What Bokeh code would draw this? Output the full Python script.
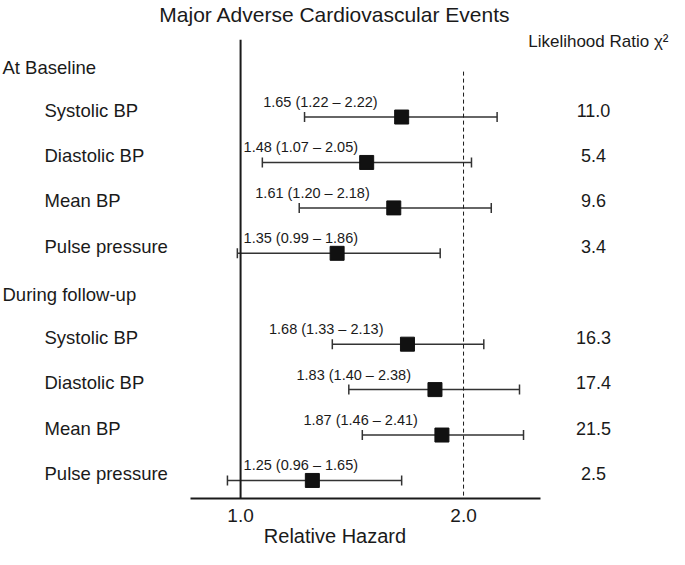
import math
from bokeh.plotting import figure
from bokeh.models import Range1d, ColumnDataSource, Whisker, TeeHead, FixedTicker, PrintfTickFormatter
from bokeh.core.properties import value
from bokeh.embed import file_html
from bokeh.resources import INLINE

# ---------------- data ----------------
title_text = "Major Adverse Cardiovascular Events"
x_label = "Relative Hazard"
chi_header = "Likelihood Ratio \u03c7\u00b2"
sections = ["At Baseline", "During follow-up"]
measures = ["Systolic BP", "Diastolic BP", "Mean BP", "Pulse pressure"]

hr_baseline = [1.65, 1.48, 1.61, 1.35]
lo_baseline = [1.22, 1.07, 1.20, 0.99]
hi_baseline = [2.22, 2.05, 2.18, 1.86]
chi_baseline = [11.0, 5.4, 9.6, 3.4]

hr_followup = [1.68, 1.83, 1.87, 1.25]
lo_followup = [1.33, 1.40, 1.46, 0.96]
hi_followup = [2.13, 2.38, 2.41, 1.65]
chi_followup = [16.3, 17.4, 21.5, 2.5]

x_ticks = [1.0, 2.0]

# ---------------- layout / style ----------------
FONT = "Liberation Sans"
INK = "#1a1a1a"
W, H = 669, 549
X_LO, X_HI = 0.4741, 3.794
AXIS_LO, AXIS_HI = 0.856, 2.541
Y_TOP, Y_BOT = -1.015, 9.397
LINE_TOP = -0.7
LABEL_GAP = 24      # px between CI text and point estimate
LABEL_W = 122       # approx. px width of CI text
PX_PER_LOG2 = W / math.log2(X_HI / X_LO)

# ---------------- rows ----------------
hdr_y, hdr_txt = [], []
item_y, item_txt, est, lo, hi, chi = [], [], [], [], [], []
row = 0
for sec, hrs, los, his, chis in zip(
        sections,
        [hr_baseline, hr_followup],
        [lo_baseline, lo_followup],
        [hi_baseline, hi_followup],
        [chi_baseline, chi_followup]):
    hdr_y.append(row)
    hdr_txt.append(sec)
    row += 1
    for m, e, l, h, c in zip(measures, hrs, los, his, chis):
        item_y.append(row)
        item_txt.append(m)
        est.append(e)
        lo.append(l)
        hi.append(h)
        chi.append(c)
        row += 1

ci_txt = [f"{e:.2f} ({l:.2f} \u2013 {h:.2f})" for e, l, h in zip(est, lo, hi)]

right_lab = dict(x=[], y=[], t=[])
left_lab = dict(x=[], y=[], t=[])
for e, y, t in zip(est, item_y, ci_txt):
    right_edge = math.log2(e / x_ticks[0]) * PX_PER_LOG2 - LABEL_GAP
    if right_edge - LABEL_W < 3:
        left_lab["x"].append(x_ticks[0]); left_lab["y"].append(y); left_lab["t"].append(t)
    else:
        right_lab["x"].append(e); right_lab["y"].append(y); right_lab["t"].append(t)

# ---------------- figure ----------------
p = figure(width=W, height=H, x_axis_type="log",
           x_range=Range1d(X_LO, X_HI), y_range=Range1d(Y_BOT, Y_TOP),
           y_axis_location=None, output_backend="svg", toolbar_location=None,
           min_border=0, title=title_text)
p.grid.visible = False
p.outline_line_color = None
p.background_fill_color = "white"

p.title.align = "center"
p.title.text_font = FONT
p.title.text_font_size = "21px"
p.title.text_font_style = "normal"
p.title.text_color = INK
p.title.standoff = 0

ax = p.xaxis[0]
ax.ticker = FixedTicker(ticks=x_ticks, minor_ticks=[])
ax.formatter = PrintfTickFormatter(format="%.1f")
ax.bounds = (AXIS_LO, AXIS_HI)
ax.axis_line_width = 2
ax.axis_line_color = INK
ax.major_tick_line_color = None
ax.minor_tick_line_color = None
ax.major_label_text_font = FONT
ax.major_label_text_font_size = "19px"
ax.major_label_text_color = INK
ax.major_label_standoff = 4
ax.axis_label = x_label
ax.axis_label_text_font = FONT
ax.axis_label_text_font_size = "20px"
ax.axis_label_text_font_style = "normal"
ax.axis_label_text_color = INK
ax.axis_label_standoff = 0

# reference lines
p.segment(x0=[x_ticks[0]], y0=[LINE_TOP], x1=[x_ticks[0]], y1=[Y_BOT],
          line_width=2, line_color=INK)
p.segment(x0=[x_ticks[1]], y0=[hdr_y[0]], x1=[x_ticks[1]], y1=[Y_BOT],
          line_width=1, line_color=INK, line_dash="4 3")

src = ColumnDataSource(dict(y=item_y, est=est, lo=lo, hi=hi))
wh = Whisker(source=src, base="y", lower="lo", upper="hi", dimension="width",
             line_color="#333333", line_width=1.5, level="underlay",
             upper_head=TeeHead(size=10, line_color="#333333", line_width=1.5),
             lower_head=TeeHead(size=10, line_color="#333333", line_width=1.5))
p.add_layout(wh)
p.scatter("est", "y", source=src, marker="square", size=14,
          fill_color="#111111", line_color="#111111")

# CI text labels
p.text(x="x", y="y", text="t", source=ColumnDataSource(right_lab),
       x_offset=-LABEL_GAP, y_offset=-15, text_align="right", text_baseline="middle",
       text_font=value(FONT), text_font_size="14.5px", text_color=INK)
p.text(x="x", y="y", text="t", source=ColumnDataSource(left_lab),
       x_offset=3, y_offset=-15, text_align="left", text_baseline="middle",
       text_font=value(FONT), text_font_size="14.5px", text_color=INK)

# row labels
p.text(x=[X_LO] * len(hdr_y), y=hdr_y, text=hdr_txt, x_offset=2, y_offset=-4,
       text_align="left", text_baseline="middle",
       text_font=value(FONT), text_font_size="18.5px", text_color=INK)
p.text(x=[X_LO] * len(item_y), y=item_y, text=item_txt, x_offset=44, y_offset=-7,
       text_align="left", text_baseline="middle",
       text_font=value(FONT), text_font_size="18.5px", text_color=INK)

# chi-square column
p.text(x=[X_HI] * len(item_y), y=item_y, text=[f"{c:.1f}" for c in chi],
       x_offset=-76, y_offset=-7, text_align="center", text_baseline="middle",
       text_font=value(FONT), text_font_size="18px", text_color=INK)
p.text(x=[X_HI], y=[hdr_y[0]], text=[chi_header], x_offset=-1, y_offset=-30,
       text_align="right", text_baseline="middle",
       text_font=value(FONT), text_font_size="17px", text_color=INK)

open("out.html", "w").write(file_html(p, INLINE))
